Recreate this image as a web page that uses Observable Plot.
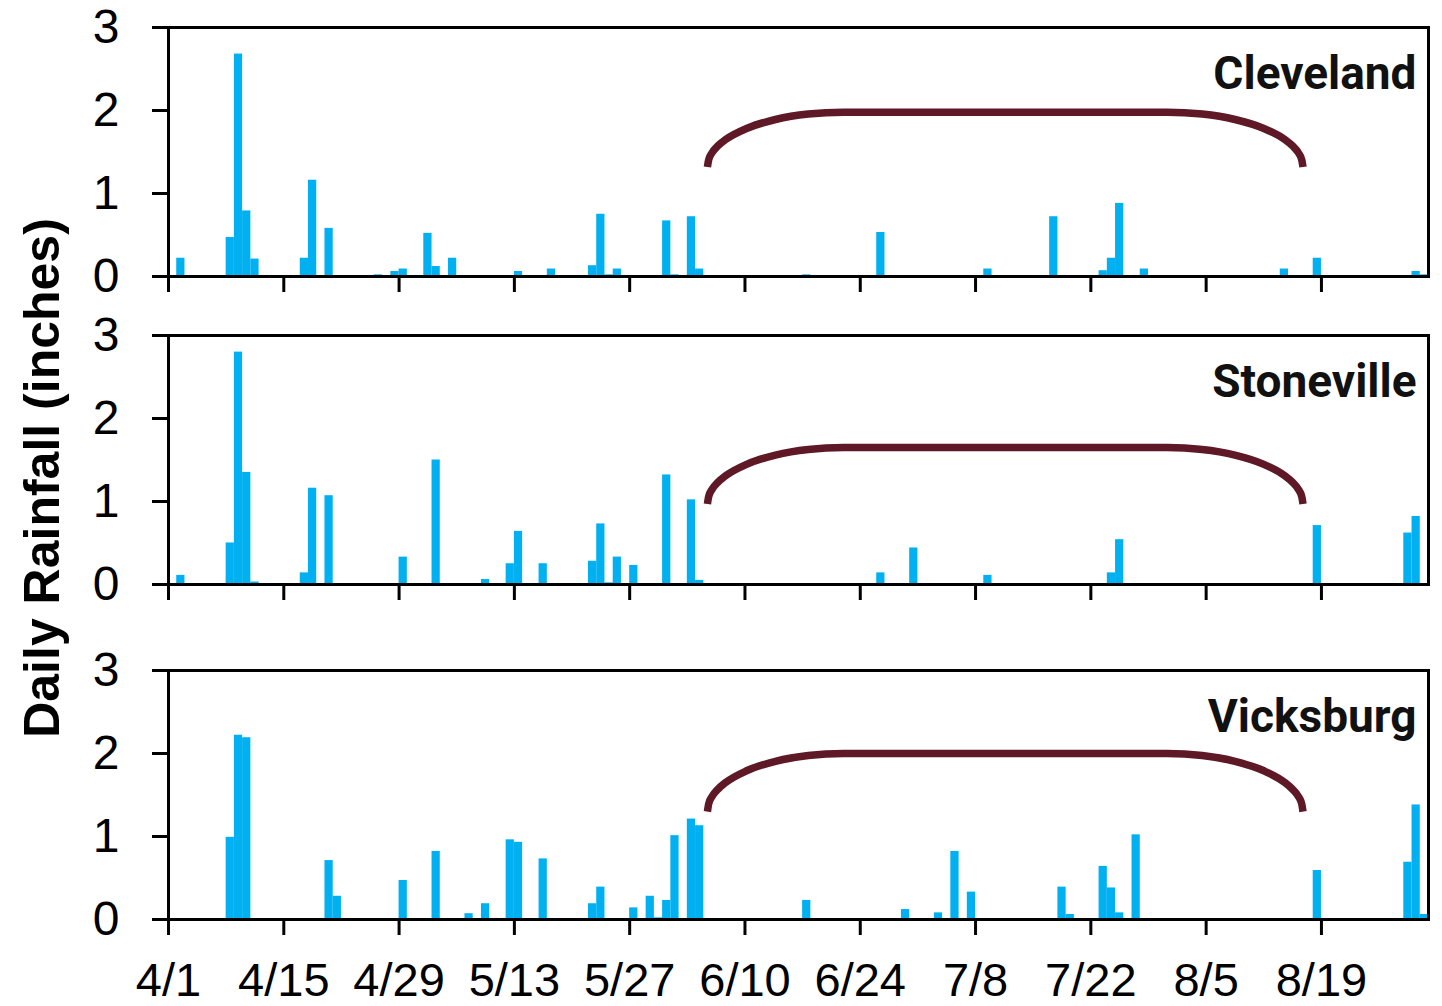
<!DOCTYPE html>
<html>
<head>
<meta charset="utf-8">
<script src="https://cdn.jsdelivr.net/npm/d3@7"></script>
<script src="https://cdn.jsdelivr.net/npm/@observablehq/plot@0.6"></script>
<style>
  html, body { margin: 0; padding: 0; background: #fff; }
  #wrap { position: relative; width: 1442px; height: 1006px; overflow: hidden; background: #fff; }
  .panel { position: absolute; left: 0; }
  #ylab { position: absolute; left: 42px; top: 478px; transform: translate(-50%, -50%) rotate(-90deg);
          font: bold 50px "Liberation Sans", Arial, sans-serif; white-space: nowrap; color: #000; }
</style>
</head>
<body>
<div id="wrap">
  <div id="ylab">Daily Rainfall (inches)</div>
</div>
<script>
// ---- data ----
const stations = ["Cleveland", "Stoneville", "Vicksburg"];

const clevelandDates = ["4/2","4/8","4/9","4/10","4/11","4/17","4/18","4/20","4/26","4/28","4/29","5/2","5/3","5/5","5/13","5/17","5/22","5/23","5/24","5/25","5/31","6/1","6/3","6/4","6/17","6/26","7/9","7/17","7/23","7/24","7/25","7/28","8/14","8/18","8/30","8/31"];
const clevelandValues = [0.22,0.47,2.68,0.79,0.21,0.22,1.16,0.58,0.02,0.06,0.09,0.52,0.12,0.22,0.06,0.09,0.13,0.75,0.02,0.09,0.67,0.02,0.72,0.09,0.02,0.53,0.09,0.72,0.07,0.22,0.88,0.09,0.09,0.22,0.06,0.02];

const stonevilleDates = ["4/2","4/8","4/9","4/10","4/11","4/17","4/18","4/20","4/29","5/3","5/9","5/12","5/13","5/16","5/22","5/23","5/24","5/25","5/27","5/31","6/3","6/4","6/26","6/30","7/9","7/24","7/25","8/18","8/29","8/30","8/31"];
const stonevilleValues = [0.11,0.50,2.80,1.35,0.03,0.14,1.16,1.07,0.33,1.50,0.06,0.25,0.64,0.25,0.28,0.73,0.02,0.33,0.23,1.32,1.02,0.05,0.14,0.44,0.11,0.14,0.54,0.71,0.62,0.82,0.01];

const vicksburgDates = ["4/8","4/9","4/10","4/20","4/21","4/29","5/3","5/7","5/9","5/12","5/13","5/16","5/22","5/23","5/27","5/29","5/30","5/31","6/1","6/3","6/4","6/17","6/29","7/3","7/5","7/7","7/18","7/19","7/23","7/24","7/25","7/27","8/18","8/29","8/30","8/31"];
const vicksburgValues = [0.99,2.22,2.19,0.71,0.28,0.47,0.82,0.07,0.19,0.96,0.93,0.73,0.19,0.39,0.14,0.28,0.02,0.23,1.01,1.21,1.13,0.23,0.12,0.08,0.82,0.33,0.39,0.06,0.64,0.38,0.08,1.02,0.59,0.69,1.38,0.06];

const tickLabels = ["4/1","4/15","4/29","5/13","5/27","6/10","6/24","7/8","7/22","8/5","8/19"];
const yTicks = [0, 1, 2, 3];
const xDomain = ["4/1", "9/1"];

// bracket annotation: day offsets from 4/1 and fraction of bracket height
const bracketDays = [65.44, 65.59, 66.00, 66.70, 67.65, 70.27, 73.70, 77.68, 81.96,
                     121.24, 125.52, 129.50, 132.93, 135.55, 136.50, 137.20, 137.61, 137.76];
const bracketFrac = [0, 0.1305, 0.259, 0.3827, 0.5, 0.707, 0.866, 0.966, 1,
                     1, 0.966, 0.866, 0.707, 0.5, 0.3827, 0.259, 0.1305, 0];
const bracketBottom = [1.32, 0.97, 1.30];
const bracketTop = [1.98, 1.65, 2.00];

// ---- helpers ----
const YEAR = 2023;
const parseMD = s => { const [m, d] = s.split("/").map(Number); return new Date(Date.UTC(YEAR, m - 1, d)); };
const start = parseMD("4/1");
const fmt = d3.utcFormat("%-m/%-d");
const tickDates = tickLabels.map(parseMD);

const seriesDates = [clevelandDates, stonevilleDates, vicksburgDates];
const seriesValues = [clevelandValues, stonevilleValues, vicksburgValues];

const BAR = "#00b0f0";
const BRACKET = "#5e1826";

const svgTops = [0, 308, 643];
const plotH = 249;
const mTop = 27;

stations.forEach((name, i) => {
  const data = seriesDates[i].map((s, k) => ({date: parseMD(s), value: seriesValues[i][k]}));
  const bracket = bracketDays.map((d, k) => ({
    date: new Date(start.getTime() + d * 864e5),
    value: bracketBottom[i] + bracketFrac[k] * (bracketTop[i] - bracketBottom[i])
  }));
  const last = i === stations.length - 1;
  const mBottom = last ? 1006 - svgTops[i] - mTop - plotH : 30;
  const chart = Plot.plot({
    width: 1442,
    height: mTop + plotH + mBottom,
    marginTop: mTop,
    marginBottom: mBottom,
    marginLeft: 168,
    marginRight: 14,
    style: {fontFamily: "'Liberation Sans', Arial, sans-serif", background: "transparent", overflow: "visible"},
    x: {type: "utc", domain: xDomain.map(parseMD), label: null},
    y: {domain: [0, 3], label: null},
    marks: [
      Plot.rectY(data, {x: "date", interval: "day", y: "value", fill: BAR, inset: 0}),
      Plot.line(bracket, {x: "date", y: "value", stroke: BRACKET, strokeWidth: 7.5, curve: "monotone-x", strokeLinecap: "butt"}),
      Plot.text([name], {frameAnchor: "top-right", text: d => d, dx: -12, dy: 61, lineAnchor: "bottom",
                          textAnchor: "end", fontSize: 46, fontWeight: 700, fontFamily: "Roboto", fill: "#111"}),
      Plot.axisY({ticks: yTicks, tickSize: 16, tickPadding: 33, tickFormat: d3.format("d"), fontSize: 48, strokeWidth: 3, label: null, stroke: "black", fill: "black"}),
      last
        ? Plot.axisX({ticks: tickDates, tickSize: 16, tickPadding: 27, tickFormat: fmt, fontSize: 47, strokeWidth: 3, label: null, stroke: "black", fill: "black"})
        : Plot.axisX({ticks: tickDates, tickSize: 16, strokeWidth: 3, label: null, stroke: "black", fill: "none"}),
      Plot.frame({stroke: "black", strokeWidth: 3})
    ]
  });
  chart.classList.add("panel");
  chart.style.top = svgTops[i] + "px";
  chart.style.position = "absolute";
  document.getElementById("wrap").appendChild(chart);
});
</script>
</body>
</html>
